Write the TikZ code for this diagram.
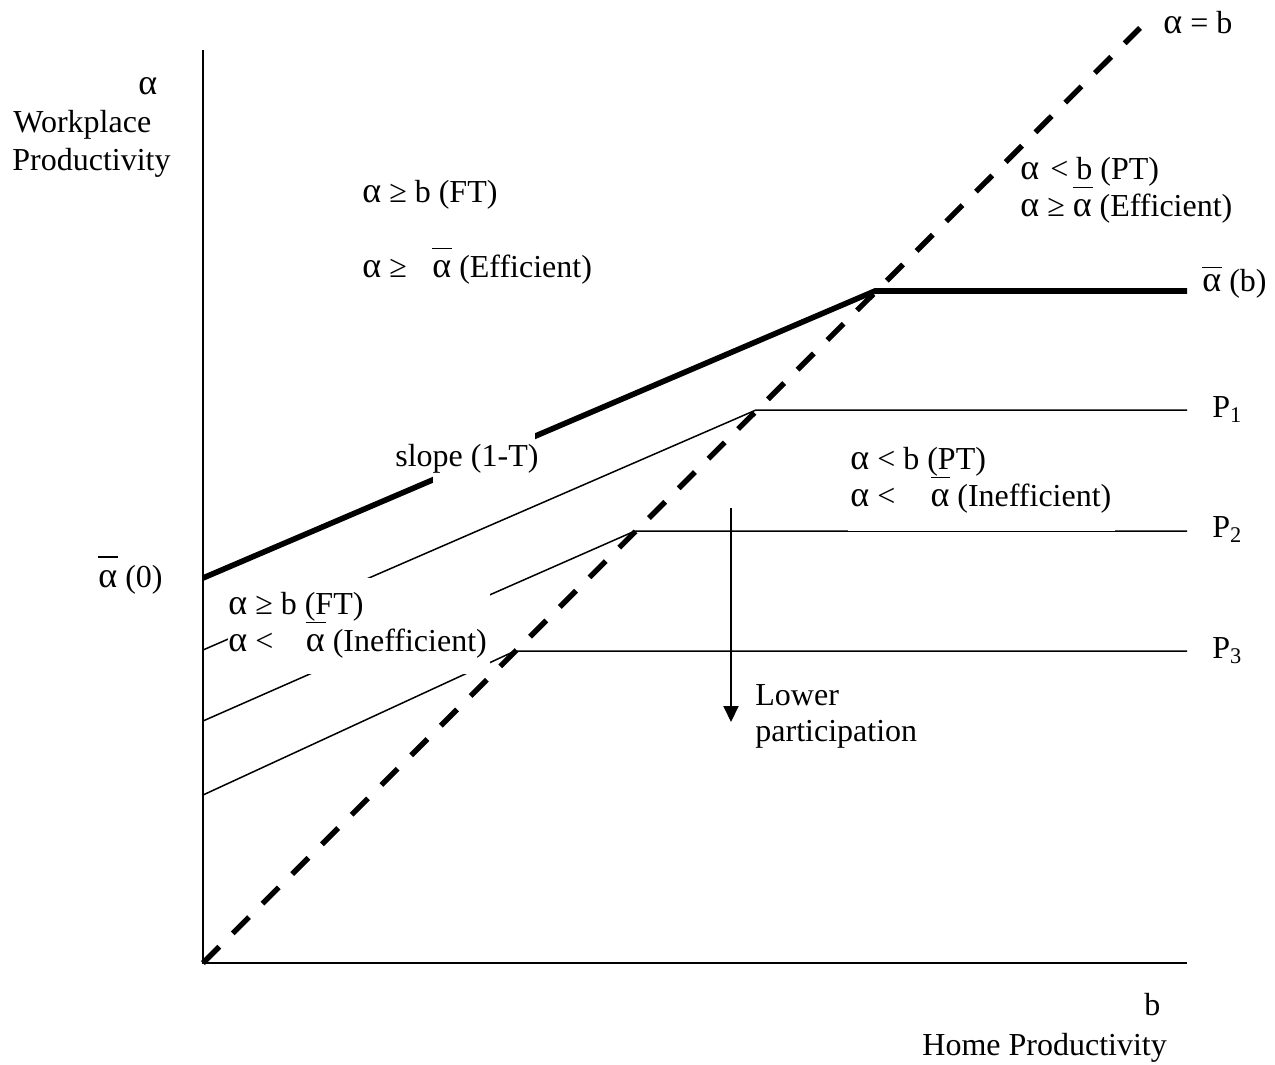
\documentclass[tikz,border=0pt]{standalone}
\usepackage{fontspec}
\setmainfont{Liberation Serif}
\usetikzlibrary{arrows.meta}
\newcommand{\al}{{\fontsize{18}{18.5}\selectfont α}}
\newcommand{\abar}[1][0.87em]{\leavevmode\rlap{\raisebox{#1}{\rule{0.62em}{0.045em}}}\al}
\begin{document}
\begin{tikzpicture}[x=0.5pt,y=-0.5pt]
\tikzset{
 lbl/.style={anchor=base west, inner sep=0pt, font=\fontsize{16}{18.5}\selectfont},
 axisline/.style={line width=1pt},
 pline/.style={line width=0.75pt, line join=miter},
 thickline/.style={line width=2.8pt, line join=miter},
 diagline/.style={line width=2.7pt, dash pattern=on 11.5pt off 9.5pt},
 mask/.style={fill=white},
 downarrow/.style={line width=1pt, -{Triangle[width=7.5pt,length=8pt]}}
}
\useasboundingbox (0,0) rectangle (1275,1065);
% coordinates
\coordinate (O) at (203,963);
\coordinate (Ytop) at (203,50);
\coordinate (Xend) at (1187,963);
\coordinate (Dend) at (1140,28);
\coordinate (A0) at (203,578);
\coordinate (Ak) at (875,291);
\coordinate (Ae) at (1187,291);
\coordinate (P1s) at (203,650);
\coordinate (P1k) at (756,410);
\coordinate (P1e) at (1187,410);
\coordinate (P2s) at (203,721);
\coordinate (P2k) at (635,531);
\coordinate (P2e) at (1187,531);
\coordinate (P3s) at (203,795);
\coordinate (P3k) at (515,651);
\coordinate (P3e) at (1187,651);
\coordinate (Atop) at (731,508);
\coordinate (Abot) at (731,722);
% axes
\draw[axisline] (Ytop) -- (O) -- (Xend);
% participation lines
\draw[pline] (P1s) -- (P1k) -- (P1e);
\draw[pline] (P2s) -- (P2k) -- (P2e);
\draw[pline] (P3s) -- (P3k) -- (P3e);
% efficient threshold
\draw[thickline] (A0) -- (Ak) -- (Ae);
% alpha = b
\draw[diagline] (O) -- (Dend);
% white text backgrounds
\fill[mask] (433,425) rectangle (535,500);
\fill[mask] (228,578) rectangle (490,674);
\fill[mask] (848,440) rectangle (1115,530.6);
% labels
\node[lbl] (ya) at (138,95) {\al};
\node[lbl] (yw) at (13,133) {Workplace};
\node[lbl] (yp) at (12,170) {Productivity};
\node[lbl] (ul1) at (362,202) {\al{} ≥ b (FT)};
\node[lbl] (ul2) at (362,277) {\al{} ≥\hspace{0.8em}\abar\ (Efficient)};
\node[lbl] (ab) at (1163,34) {\al{} = b};
\node[lbl] (ur1) at (1020,179) {\al\hspace{0.35em}< b (PT)};
\node[lbl] (ur2) at (1020,216) {\al{} ≥ \abar\ (Efficient)};
\node[lbl] (abarb) at (1202,291) {\abar[0.72em] (b)};
\node[lbl] (p1) at (1212,417) {P\textsubscript{1}};
\node[lbl] (p2) at (1212,537) {P\textsubscript{2}};
\node[lbl] (p3) at (1212,658) {P\textsubscript{3}};
\node[lbl] (sl) at (395,466) {slope (1-T)};
\node[lbl] (m1) at (850,469) {\al{} < b (PT)};
\node[lbl] (m2) at (850,506) {\al{} <\hspace{1.1em}\abar\ (Inefficient)};
\node[lbl] (a0) at (98,587) {\abar[0.92em] (0)};
\node[lbl] (l1) at (228,614) {\al{} ≥ b (FT)};
\node[lbl] (l2) at (228,651) {\al{} <\hspace{1.02em}\abar\ (Inefficient)};
\node[lbl] (lw) at (755,705) {Lower};
\node[lbl] (lp) at (755,741) {participation};
\node[lbl] (xb) at (1144,1015) {b};
\node[lbl] (xh) at (922,1055) {Home Productivity};
% arrow
\draw[downarrow] (Atop) -- (Abot);
\end{tikzpicture}
\end{document}
